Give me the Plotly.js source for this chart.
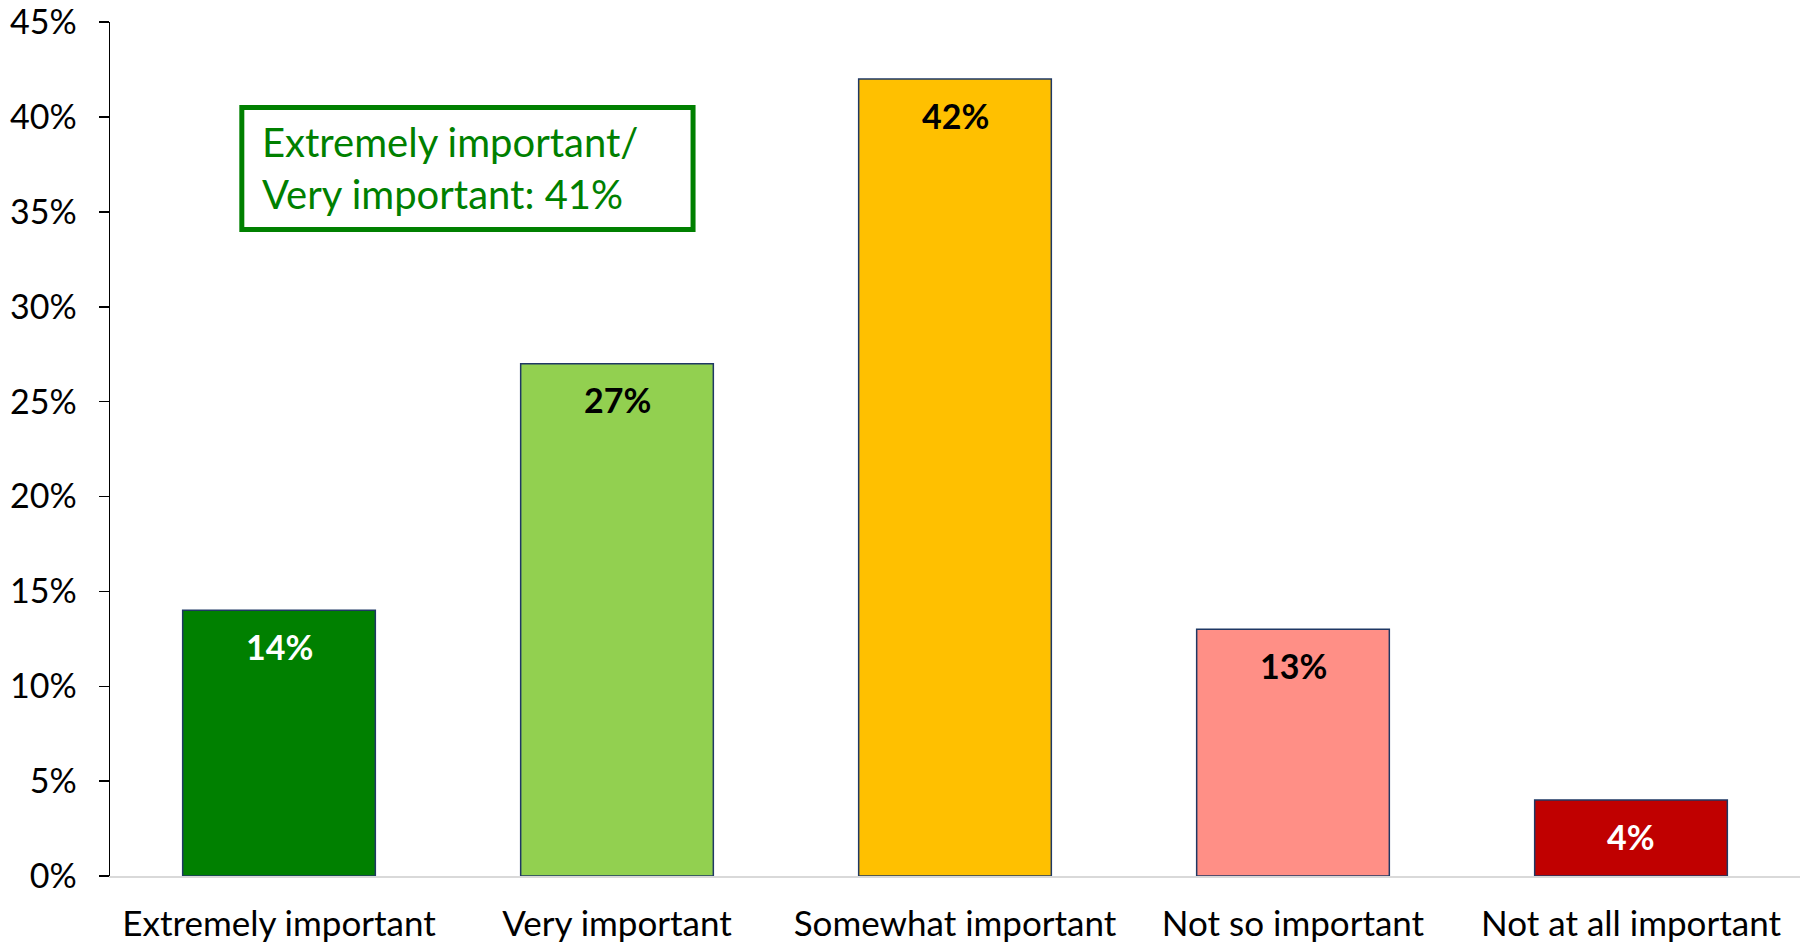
<!DOCTYPE html>
<html>
<head>
<meta charset="utf-8">
<script src="https://cdn.plot.ly/plotly-3.0.1.min.js"></script>
<style>html,body{margin:0;padding:0;background:#fff;}#chart{width:1804px;height:943px;}</style>
</head>
<body>
<div id="chart"></div>
<script>
const categories = ["Extremely important", "Very important", "Somewhat important", "Not so important", "Not at all important"];
const values = [0.14, 0.27, 0.42, 0.13, 0.04];
const barColors = ["#008000", "#92D050", "#FFC000", "#FF8F86", "#C00000"];
const labelColors = ["#FFFFFF", "#000000", "#000000", "#000000", "#FFFFFF"];
const yTickVals = [0, 0.05, 0.10, 0.15, 0.20, 0.25, 0.30, 0.35, 0.40, 0.45];
const yTickText = ["0%", "5%", "10%", "15%", "20%", "25%", "30%", "35%", "40%", "45%"];
const boxText = "Extremely important/<br>Very important: 41%";

const FONT = "Lato, 'Open Sans', sans-serif";

const trace = {
  type: "bar",
  x: categories,
  y: values,
  marker: { color: barColors, line: { color: "#1F3864", width: 1.5 } },
  hoverinfo: "skip",
  cliponaxis: false
};

// value labels placed just inside the top of each bar
const valueLabels = categories.map((c, i) => ({
  xref: "x", yref: "y",
  x: c, y: values[i],
  xanchor: "center", yanchor: "middle",
  yshift: -36,
  text: "<b>" + Math.round(values[i] * 100) + "%</b>",
  showarrow: false,
  font: { family: FONT, size: 34, color: labelColors[i] }
}));

const layout = {
  width: 1804,
  height: 943,
  margin: { l: 110, r: 4, t: 22, b: 67 },
  paper_bgcolor: "#FFFFFF",
  plot_bgcolor: "#FFFFFF",
  showlegend: false,
  bargap: 0.43,
  font: { family: FONT, color: "#000000" },
  xaxis: {
    type: "category",
    showline: true,
    linecolor: "#D9D9D9",
    linewidth: 2,
    ticks: "",
    showgrid: false,
    zeroline: false,
    tickfont: { family: FONT, size: 35, color: "#000000" },
    ticklabelstandoff: 16,
    ticklabeloverflow: "allow"
  },
  yaxis: {
    range: [0, 0.4501],
    tickvals: yTickVals,
    ticktext: yTickText,
    showline: true,
    linecolor: "#000000",
    linewidth: 1.5,
    ticks: "outside",
    ticklen: 10,
    tickwidth: 1.5,
    tickcolor: "#000000",
    showgrid: false,
    zeroline: false,
    tickfont: { family: FONT, size: 34, color: "#000000" },
    ticklabelstandoff: 15,
    ticklabeloverflow: "allow"
  },
  shapes: [{
    type: "rect",
    xref: "paper", yref: "paper",
    x0: 0.078, x1: 0.345,
    y0: 0.757, y1: 0.9,
    line: { color: "#008000", width: 5 },
    fillcolor: "rgba(0,0,0,0)"
  }],
  annotations: [{
    xref: "paper", yref: "paper",
    x: 0.089, y: 0.8285,
    xanchor: "left", yanchor: "middle",
    align: "left",
    text: boxText,
    showarrow: false,
    font: { family: FONT, size: 40, color: "#008000" }
  }].concat(valueLabels)
};

Plotly.newPlot("chart", [trace], layout, { displayModeBar: false, staticPlot: true });
</script>
</body>
</html>
